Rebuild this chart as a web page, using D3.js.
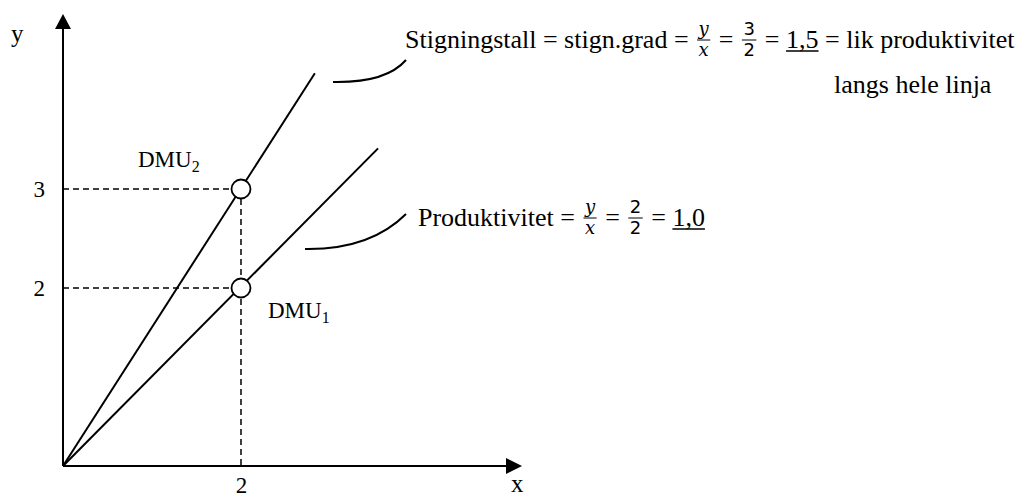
<!DOCTYPE html>
<html><head><meta charset="utf-8">
<script src="https://cdn.jsdelivr.net/npm/d3@7"></script>
<style>
body{margin:0;background:#fff}
text{font-family:"Liberation Serif","Times New Roman",serif;fill:#000;white-space:pre}
</style>
</head><body>
<svg id="c" width="1018" height="497"></svg>
<script>
// ---- data ----
const xTicks = [2];
const yTicks = [2, 3];
const dmuNames = ["DMU", "DMU"];
const dmuSubs = ["1", "2"];
const dmuX = [2, 2];
const dmuY = [2, 3];
const rayEndX = [3.54, 2.83];
const rayEndY = [3.41, 4.17];
const axisLabels = ["x", "y"];

const svg = d3.select("#c");
const x = d3.scaleLinear().domain([0, 2]).range([63, 241]);
const y = d3.scaleLinear().domain([0, 2, 3]).range([466, 288, 189]);
const X0 = x(0), Y0 = y(0);

// dashed guides
const dash = svg.append("g").attr("stroke", "#000").attr("stroke-width", 1.5).attr("stroke-dasharray", "6,4").attr("fill", "none");
dmuX.forEach((d, i) => {
  dash.append("line").attr("x1", X0).attr("y1", y(dmuY[i])).attr("x2", x(d)).attr("y2", y(dmuY[i]));
});
dash.append("line").attr("x1", x(dmuX[1])).attr("y1", y(d3.max(dmuY))).attr("x2", x(dmuX[1])).attr("y2", Y0);

// rays
rayEndX.forEach((ex, i) => {
  svg.append("line").attr("x1", X0).attr("y1", Y0).attr("x2", x(ex)).attr("y2", y(rayEndY[i]))
    .attr("stroke", "#000").attr("stroke-width", 2);
});

// axes lines + arrowheads
svg.append("line").attr("x1", X0).attr("y1", Y0).attr("x2", X0).attr("y2", 28).attr("stroke", "#000").attr("stroke-width", 2);
svg.append("path").attr("d", `M${X0},14L${X0-8},29L${X0+8},29Z`).attr("fill", "#000");
svg.append("line").attr("x1", X0).attr("y1", Y0).attr("x2", 507).attr("y2", Y0).attr("stroke", "#000").attr("stroke-width", 2);
svg.append("path").attr("d", `M522,${Y0}L506,${Y0-8}L506,${Y0+8}Z`).attr("fill", "#000");

// tick labels via d3 axes
const ya = svg.append("g").attr("transform", `translate(${X0},0)`)
  .call(d3.axisLeft(y).tickValues(yTicks).tickSize(0).tickPadding(18).tickFormat(d3.format("d")));
ya.select(".domain").remove();
ya.selectAll("text").style("font-size", "23px").style("font-family", '"Liberation Serif",serif').attr("fill", "#000");
const xa = svg.append("g").attr("transform", `translate(0,${Y0})`)
  .call(d3.axisBottom(x).tickValues(xTicks).tickSize(0).tickPadding(11).tickFormat(d3.format("d")));
xa.select(".domain").remove();
xa.selectAll("text").style("font-size", "23px").style("font-family", '"Liberation Serif",serif').attr("fill", "#000");

svg.append("text").attr("x", 511).attr("y", 492).style("font-size", "25px").text(axisLabels[0]);
svg.append("text").attr("x", 11).attr("y", 42).style("font-size", "25px").text(axisLabels[1]);

// DMU points
dmuX.forEach((d, i) => {
  svg.append("circle").attr("cx", x(d)).attr("cy", y(dmuY[i])).attr("r", 9.5)
    .attr("fill", "#fff").attr("stroke", "#000").attr("stroke-width", 1.8);
});
const dmuLabelPos = [[268, 318], [138, 167]];
dmuNames.forEach((n, i) => {
  const t = svg.append("text").attr("x", dmuLabelPos[i][0]).attr("y", dmuLabelPos[i][1]).style("font-size", "23px");
  t.append("tspan").text(n);
  t.append("tspan").attr("dy", 5).style("font-size", "16px").text(dmuSubs[i]);
});

// leader curves
const c1 = d3.path(); c1.moveTo(333, 82); c1.quadraticCurveTo(386, 83, 406, 60);
const c2 = d3.path(); c2.moveTo(305, 249); c2.quadraticCurveTo(370, 250, 406, 214);
[c1, c2].forEach(p => svg.append("path").attr("d", p.toString()).attr("fill", "none").attr("stroke", "#000").attr("stroke-width", 2));

// rich text helper
function rich(x0, base, parts, size) {
  let cx = x0;
  parts.forEach(p => {
    if (p.t !== undefined) {
      const t = svg.append("text").attr("x", cx).attr("y", base).style("font-size", size + "px").text(p.t);
      const w = t.node().getComputedTextLength();
      if (p.u) svg.append("line").attr("x1", cx).attr("x2", cx + w).attr("y1", base + 3).attr("y2", base + 3).attr("stroke", "#000").attr("stroke-width", 1.5);
      cx += w;
    } else {
      const fs = 18;
      const bar = base - 8;
      const ff = p.i ? '"DejaVu Serif",serif' : '"DejaVu Sans",sans-serif';
      const n = svg.append("text").attr("y", bar - 5).style("font-size", fs + "px").style("font-family", ff).style("font-style", p.i ? "italic" : "normal").attr("text-anchor", "middle").text(p.n);
      const d = svg.append("text").attr("y", bar + 16).style("font-size", fs + "px").style("font-family", ff).style("font-style", p.i ? "italic" : "normal").attr("text-anchor", "middle").text(p.d);
      const w = Math.max(n.node().getComputedTextLength(), d.node().getComputedTextLength()) + 3;
      n.attr("x", cx + 2 + w / 2); d.attr("x", cx + 2 + w / 2);
      svg.append("line").attr("x1", cx + 2).attr("x2", cx + 2 + w).attr("y1", bar).attr("y2", bar).attr("stroke", "#000").attr("stroke-width", 1);
      cx += w + 4;
    }
  });
}

rich(405, 48, [
  {t: "Stigningstall = stign.grad = "}, {n: "y", d: "x", i: true}, {t: " = "}, {n: "3", d: "2"},
  {t: " = "}, {t: "1,5", u: true}, {t: " = lik produktivitet"}
], 26);
svg.append("text").attr("x", 834).attr("y", 93).style("font-size", "26px").text("langs hele linja");
rich(418, 226, [
  {t: "Produktivitet = "}, {n: "y", d: "x", i: true}, {t: " = "}, {n: "2", d: "2"}, {t: " = "}, {t: "1,0", u: true}
], 26);
</script>
</body></html>
